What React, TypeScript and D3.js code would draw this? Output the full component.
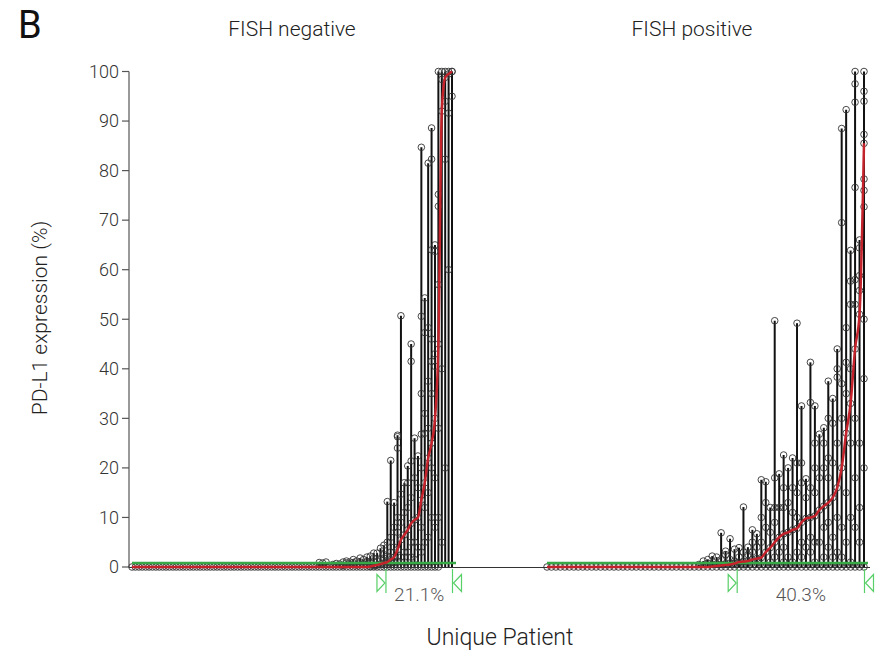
import React from "react";
import * as d3 from "d3";

// values: one row per unique patient, sorted by median
const panelTitles = ["FISH negative", "FISH positive"];
const percentLabels = ["21.1%", "40.3%"];
const yTicks = [0, 10, 20, 30, 40, 50, 60, 70, 80, 90, 100];
const threshold = 1;

const negMedian = [
  0, 0, 0, 0, 0, 0, 0, 0, 0, 0,
  0, 0, 0, 0, 0, 0, 0, 0, 0, 0,
  0, 0, 0, 0, 0, 0, 0, 0, 0, 0,
  0, 0, 0, 0, 0, 0, 0, 0, 0, 0,
  0, 0, 0, 0, 0, 0, 0, 0, 0, 0,
  0, 0, 0, 0, 0,
  0, 0, 0, 0, 0, 0, 0, 0, 0, 0, 0, 0, 0, 0, 0, 0.1, 0.25, 0.4, 0.6, 0.8,
  1.0, 1.5, 2.0, 3.5, 5.5, 6.5, 7.5, 8.8, 9.5, 10, 13.5, 17, 22, 25, 30, 45, 92, 98.8, 99.5, 100,
];

const negSamples = [
  [0], [0], [0], [0], [0], [0], [0], [0], [0], [0],
  [0], [0], [0], [0], [0], [0], [0], [0], [0], [0],
  [0], [0], [0], [0], [0], [0], [0], [0], [0], [0],
  [0], [0], [0], [0], [0], [0], [0], [0], [0], [0],
  [0], [0], [0], [0], [0], [0], [0], [0], [0], [0],
  [0], [0], [0], [0], [0],
  [0, 0.9], [0, 0.8], [0, 1.0], [0], [0, 0.5],
  [0, 0.7], [0, 0.6], [0, 0.3, 1.0], [0, 0.8, 1.2], [0, 0.5, 1.0],
  [0, 0.9, 1.5], [0, 0.4, 1.2], [0, 1.0, 1.8], [0, 0.6, 1.5], [0, 0.5, 1.1, 2.0],
  [0, 0.1, 0.8, 2.2], [0, 0.25, 1.0, 2.8], [0, 0.4, 1.2, 2.8], [0, 0.6, 1.5, 3.8], [0, 0.8, 1.8, 2.5, 4.4],
  [0, 0.5, 1.0, 2.2, 5, 13.2],
  [0, 0.8, 1.5, 3, 6, 21.5],
  [0, 0.9, 2.0, 4, 8, 13.0],
  [0, 1.2, 3.5, 7, 10, 24, 26.3, 26.6],
  [0, 2, 5.5, 9, 14.7, 50.7],
  [0, 1, 3, 6.5, 11, 17],
  [0, 3, 7.5, 12, 17, 20.4],
  [0, 2, 5, 8.8, 14, 21.4, 41.5, 45],
  [0, 1.5, 5, 9.5, 18, 26],
  [0, 4, 10, 16, 22.4],
  [0, 3, 8, 13.5, 20, 26.8, 35, 50.6, 84.7],
  [0, 5, 12, 17, 27, 31, 47.3, 54.3],
  [0, 6, 15, 22, 28, 37.5, 48.3, 81.5],
  [0, 10, 20, 25, 35, 41.5, 46, 64, 82.3, 88.6],
  [0, 8, 18, 30, 40.5, 43, 63.7, 65],
  [0, 10, 28, 45, 57, 72.8, 75.2, 100],
  [5, 40, 92, 98.4, 100],
  [20, 82.3, 94, 98.8, 100],
  [60, 91.6, 99.5, 100],
  [95, 100, 100],
];

const posMedian = [
  0, 0, 0, 0, 0, 0, 0, 0, 0, 0,
  0, 0, 0, 0, 0, 0, 0, 0, 0, 0,
  0, 0, 0, 0, 0, 0, 0, 0, 0, 0,
  0, 0, 0, 0, 0, 0, 0,
  0.1, 0.2, 0.3, 0.4, 0.5, 0.7,
  1.0, 1.1, 1.2, 1.5, 1.7, 1.9, 3.0, 3.9, 5.0, 6.0, 6.7, 7.0, 7.5, 7.8, 9.0,
  9.8, 10, 10.3, 11.5, 12.3, 13, 14, 16, 20, 27, 33, 44, 51, 85.5,
];

const posSamples = [
  [0], [0], [0], [0], [0], [0], [0], [0], [0], [0],
  [0], [0], [0], [0], [0], [0], [0], [0], [0], [0],
  [0], [0], [0], [0], [0], [0], [0], [0], [0], [0],
  [0], [0], [0], [0],
  [0, 0.5], [0, 1.2], [0, 0.8, 1.5], [0, 0.5, 2.2], [0, 0.6, 2.0],
  [0, 0.5, 1.5, 6.9], [0, 0.6, 2.5, 3.2], [0, 0.8, 1.5, 5.7], [0, 0.7, 1.2, 3.6],
  [0, 1, 2, 3.9],
  [0, 0.5, 1.1, 3, 12.1],
  [0, 1.2, 2.5, 4],
  [0, 1.5, 3, 5, 7.5],
  [0, 1.7, 4, 6.7],
  [0, 1.9, 5, 10, 17.6],
  [0, 3, 8, 13, 17.2],
  [0, 1, 3.9, 7, 12],
  [0, 2, 5, 9, 12, 18, 49.7],
  [0, 3, 6, 12, 18.8],
  [0, 1, 4, 6.7, 12, 16, 22.6],
  [0, 2, 7, 13, 20],
  [0, 1, 7.5, 11, 16, 22],
  [0, 3, 7.8, 10, 15, 21, 49.2],
  [0, 2, 5, 9, 17, 21, 32.5],
  [0, 4, 9.8, 14, 17.8],
  [0, 3, 6, 10, 16, 33.2, 41.3],
  [0, 1, 5, 10.3, 15, 20, 25, 32.5],
  [0, 5, 11.5, 18, 26.8],
  [0, 2, 8, 12.3, 20, 25, 28.1],
  [0, 4, 9, 13, 18, 22, 30, 37.5],
  [0, 2, 6, 14, 21, 29, 34],
  [0, 3, 10, 16, 25, 38.3, 40, 44],
  [0, 2, 8, 20, 30, 37, 69.5, 88.5],
  [0, 5, 15, 27, 35, 41.3, 48.3, 92.3],
  [0, 1, 10, 25, 33, 40, 53, 57.7, 63.9],
  [0, 8, 18, 30, 44, 53, 58, 76.6, 93.8, 97.5, 100],
  [0, 5, 12, 25, 51, 55.8, 58.8, 64.4, 66],
  [0, 20, 38, 50, 72.7, 76, 78.3, 85.5, 87.3, 94, 96, 100],
];

const W = 894;
const H = 656;
const font = "Roboto, 'Noto Sans', sans-serif";
const green = "#37a946";
const arrowGreen = "#58cf67";
const red = "#c4232c";

const y = d3.scaleLinear().domain([0, 100]).range([567, 71.5]);

function Panel({ samples, median, range, title, pct, titleX }: any) {
  const x = d3.scaleLinear().domain([0, median.length - 1]).range(range);
  const last = median.length - 1;
  const first = median.findIndex((m: number) => m >= threshold);
  const line = d3
    .line<number>()
    .x((_, i) => x(i))
    .y((d) => y(d))
    .curve(d3.curveMonotoneX);
  const bl = x(first - 0.4);
  const br = x(last) + 0.5;
  const ay = 583;
  return (
    <g>
      <text x={titleX} y={36} textAnchor="middle" fontSize={21} fontWeight={300} fill="#222">
        {title}
      </text>
      {samples.map((vals: number[], i: number) => (
        <line key={"s" + i} x1={x(i)} x2={x(i)} y1={y(0)} y2={y(d3.max(vals)!)} stroke="#111" strokeWidth={2} />
      ))}
      {samples.map((vals: number[], i: number) =>
        vals.map((v, j) => (
          <circle key={"c" + i + "_" + j} cx={x(i)} cy={y(v)} r={3.3} fill="none" stroke="#333" strokeWidth={0.9} />
        ))
      )}
      <line x1={x(0)} x2={x(last) + 4} y1={y(0.8)} y2={y(0.8)} stroke={green} strokeWidth={2.4} />
      <path d={line(median)!} fill="none" stroke={red} strokeWidth={2.5} />
      {/* bracket for share of patients at or above threshold */}
      <line x1={bl} x2={bl} y1={569} y2={593} stroke={arrowGreen} strokeWidth={1.2} />
      <path d={`M${bl - 9},${ay - 8.5}L${bl - 1},${ay}L${bl - 9},${ay + 8.5}Z`} fill="none" stroke={arrowGreen} strokeWidth={1.2} />
      <line x1={br} x2={br} y1={569} y2={593} stroke={arrowGreen} strokeWidth={1.2} />
      <path d={`M${br + 9},${ay - 8.5}L${br + 1},${ay}L${br + 9},${ay + 8.5}Z`} fill="none" stroke={arrowGreen} strokeWidth={1.2} />
      <text x={(bl + br) / 2} y={601} textAnchor="middle" fontSize={19} fontWeight={300} fill="#555">
        {pct}
      </text>
    </g>
  );
}

export default function App() {
  const axisX = 129;
  return (
    <div style={{ position: "absolute", left: 0, top: 0 }}>
      <svg width={W} height={H} style={{ display: "block", fontFamily: font }}>
        <rect width={W} height={H} fill="#fff" />
        <text x={18} y={38} fontSize={38} fill="#111">B</text>
        {/* y axis */}
        <line x1={axisX} x2={axisX} y1={y(100)} y2={y(0)} stroke="#555" strokeWidth={1.2} />
        {yTicks.map((t) => (
          <g key={t}>
            <line x1={axisX - 7} x2={axisX} y1={y(t)} y2={y(t)} stroke="#555" strokeWidth={1.2} />
            <text x={axisX - 10} y={y(t)} dy="0.35em" textAnchor="end" fontSize={18} fontWeight={300} fill="#333">
              {t}
            </text>
          </g>
        ))}
        <text transform={`translate(47,318) rotate(-90)`} textAnchor="middle" fontSize={21} fontWeight={300} fill="#222">
          PD-L1 expression (%)
        </text>
        {/* x baseline */}
        <line x1={axisX} x2={870} y1={y(0) + 0.5} y2={y(0) + 0.5} stroke="#333" strokeWidth={1} />
        <Panel samples={negSamples} median={negMedian} range={[132, 452]} title={panelTitles[0]} pct={percentLabels[0]} titleX={292} />
        <Panel samples={posSamples} median={posMedian} range={[547, 864]} title={panelTitles[1]} pct={percentLabels[1]} titleX={692} />
        <text x={500} y={645} textAnchor="middle" fontSize={23} fontWeight={300} fill="#222">
          Unique Patient
        </text>
      </svg>
    </div>
  );
}
